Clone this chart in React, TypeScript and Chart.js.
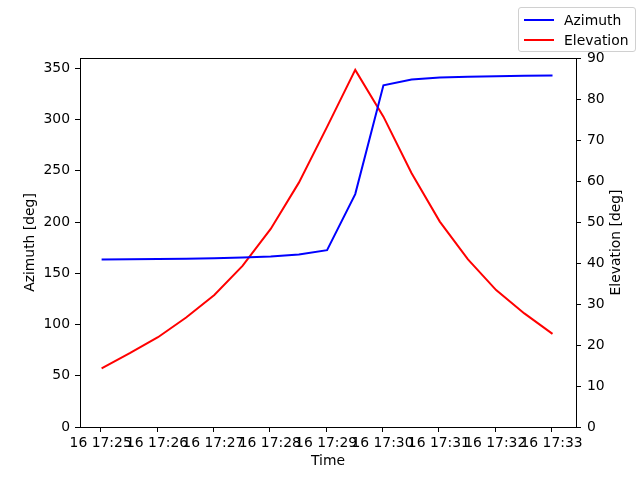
import { useEffect, useRef } from "react";
import { Chart, registerables } from "chart.js";

Chart.register(...registerables);

// seconds after 16 17:25:00, one sample every 30 s
const timeSeconds = [1, 31, 61, 91, 121, 151, 181, 211, 241, 271, 301, 331, 361, 391, 421, 451, 481];
const azimuth = [163.5, 163.7, 163.9, 164.2, 164.6, 165.3, 166.3, 168.2, 172.5, 227.2, 333.4, 339, 341, 341.7, 342.2, 342.6, 343];
const elevation = [14.3, 18.0, 21.9, 26.7, 32.2, 39.3, 48.3, 59.6, 73.2, 87.1, 75.7, 61.9, 50.1, 40.9, 33.4, 27.7, 22.7];
const tickSeconds = [0, 60, 120, 180, 240, 300, 360, 420, 480];
const tickLabels = ["16 17:25", "16 17:26", "16 17:27", "16 17:28", "16 17:29", "16 17:30", "16 17:31", "16 17:32", "16 17:33"];
const azimuthTicks = [0, 50, 100, 150, 200, 250, 300, 350];
const elevationTicks = [0, 10, 20, 30, 40, 50, 60, 70, 80, 90];

const FONT = "'DejaVu Sans', sans-serif";
const FONT_SIZE = 13.9;

// top spine of the plot box plus the right-hand title, which matplotlib
// writes bottom-to-top (Chart.js would rotate it the other way)
const frame = {
  id: "frame",
  afterDraw(chart: Chart) {
    const { ctx, chartArea } = chart;
    ctx.save();
    ctx.strokeStyle = "#000";
    ctx.lineWidth = 1;
    ctx.beginPath();
    ctx.moveTo(chartArea.left, chartArea.top + 0.5);
    ctx.lineTo(chartArea.right, chartArea.top + 0.5);
    ctx.stroke();
    ctx.translate(616, (chartArea.top + chartArea.bottom) / 2);
    ctx.rotate(-Math.PI / 2);
    ctx.fillStyle = "#000";
    ctx.font = `${FONT_SIZE}px ${FONT}`;
    ctx.textAlign = "center";
    ctx.textBaseline = "middle";
    ctx.fillText("Elevation [deg]", 0, 0);
    ctx.restore();
  },
};

export default function App() {
  const chartRef = useRef<HTMLCanvasElement>(null);
  const chartInstance = useRef<Chart | null>(null);

  useEffect(() => {
    if (!chartRef.current) return;
    if (chartInstance.current) chartInstance.current.destroy();
    const ctx = chartRef.current.getContext("2d");
    if (!ctx) return;

    const tickFont = { family: FONT, size: FONT_SIZE };
    const axisCommon = {
      border: { color: "#000", width: 1 },
      grid: { drawOnChartArea: false, drawTicks: true, tickLength: 5, tickColor: "#000" },
    };

    chartInstance.current = new Chart(ctx, {
      type: "line",
      data: {
        datasets: [
          {
            label: "Azimuth",
            data: timeSeconds.map((t, i) => ({ x: t, y: azimuth[i] })),
            borderColor: "#0000ff",
            borderWidth: 2,
            pointRadius: 0,
            yAxisID: "y",
          },
          {
            label: "Elevation",
            data: timeSeconds.map((t, i) => ({ x: t, y: elevation[i] })),
            borderColor: "#ff0000",
            borderWidth: 2,
            pointRadius: 0,
            yAxisID: "y1",
          },
        ],
      },
      options: {
        animation: false,
        responsive: true,
        maintainAspectRatio: false,
        layout: { padding: { top: 58, left: 0, right: 0, bottom: 0 } },
        plugins: { legend: { display: false }, tooltip: { enabled: false } },
        scales: {
          x: {
            type: "linear",
            min: -22,
            max: 506,
            ...axisCommon,
            afterBuildTicks: (scale: any) => {
              scale.ticks = tickSeconds.map((v) => ({ value: v }));
            },
            afterFit: (scale: any) => {
              scale.height = 53;
            },
            ticks: {
              autoSkip: false,
              maxRotation: 0,
              minRotation: 0,
              color: "#000",
              padding: 3,
              font: tickFont,
              callback: (v: any) => tickLabels[tickSeconds.indexOf(Number(v))] ?? "",
            },
            title: { display: true, text: "Time", color: "#000", font: tickFont, padding: { top: 0, bottom: 10 } },
          },
          y: {
            type: "linear",
            position: "left",
            min: 0,
            max: 360,
            ...axisCommon,
            afterBuildTicks: (scale: any) => {
              scale.ticks = azimuthTicks.map((v) => ({ value: v }));
            },
            afterFit: (scale: any) => {
              scale.width = 80;
            },
            ticks: { color: "#000", padding: 5, font: tickFont },
            title: { display: true, text: "Azimuth [deg]", color: "#000", font: tickFont, padding: { top: 22, bottom: 0 } },
          },
          y1: {
            type: "linear",
            position: "right",
            min: 0,
            max: 90,
            ...axisCommon,
            afterBuildTicks: (scale: any) => {
              scale.ticks = elevationTicks.map((v) => ({ value: v }));
            },
            afterFit: (scale: any) => {
              scale.width = 64;
            },
            ticks: { color: "#000", padding: 6, font: tickFont },
          },
        },
      },
      plugins: [frame],
    });

    return () => {
      if (chartInstance.current) {
        chartInstance.current.destroy();
        chartInstance.current = null;
      }
    };
  }, []);

  const legendRow = (color: string, text: string, top: number) => (
    <div style={{ position: "absolute", left: 0, top, height: 20, display: "flex", alignItems: "center" }}>
      <div style={{ marginLeft: 5, width: 30, height: 2, background: color }} />
      <span style={{ marginLeft: 10, fontSize: FONT_SIZE, fontFamily: FONT, color: "#000" }}>{text}</span>
    </div>
  );

  return (
    <div style={{ position: "fixed", left: 0, top: 0, width: 640, height: 480, background: "#fff" }}>
      <canvas ref={chartRef} />
      <div
        style={{
          position: "absolute",
          left: 518,
          top: 7,
          width: 116,
          height: 43,
          border: "1px solid #d0d0d0",
          borderRadius: 3,
          background: "rgba(255,255,255,0.8)",
        }}
      >
        {legendRow("#0000ff", "Azimuth", 2)}
        {legendRow("#ff0000", "Elevation", 22)}
      </div>
    </div>
  );
}
